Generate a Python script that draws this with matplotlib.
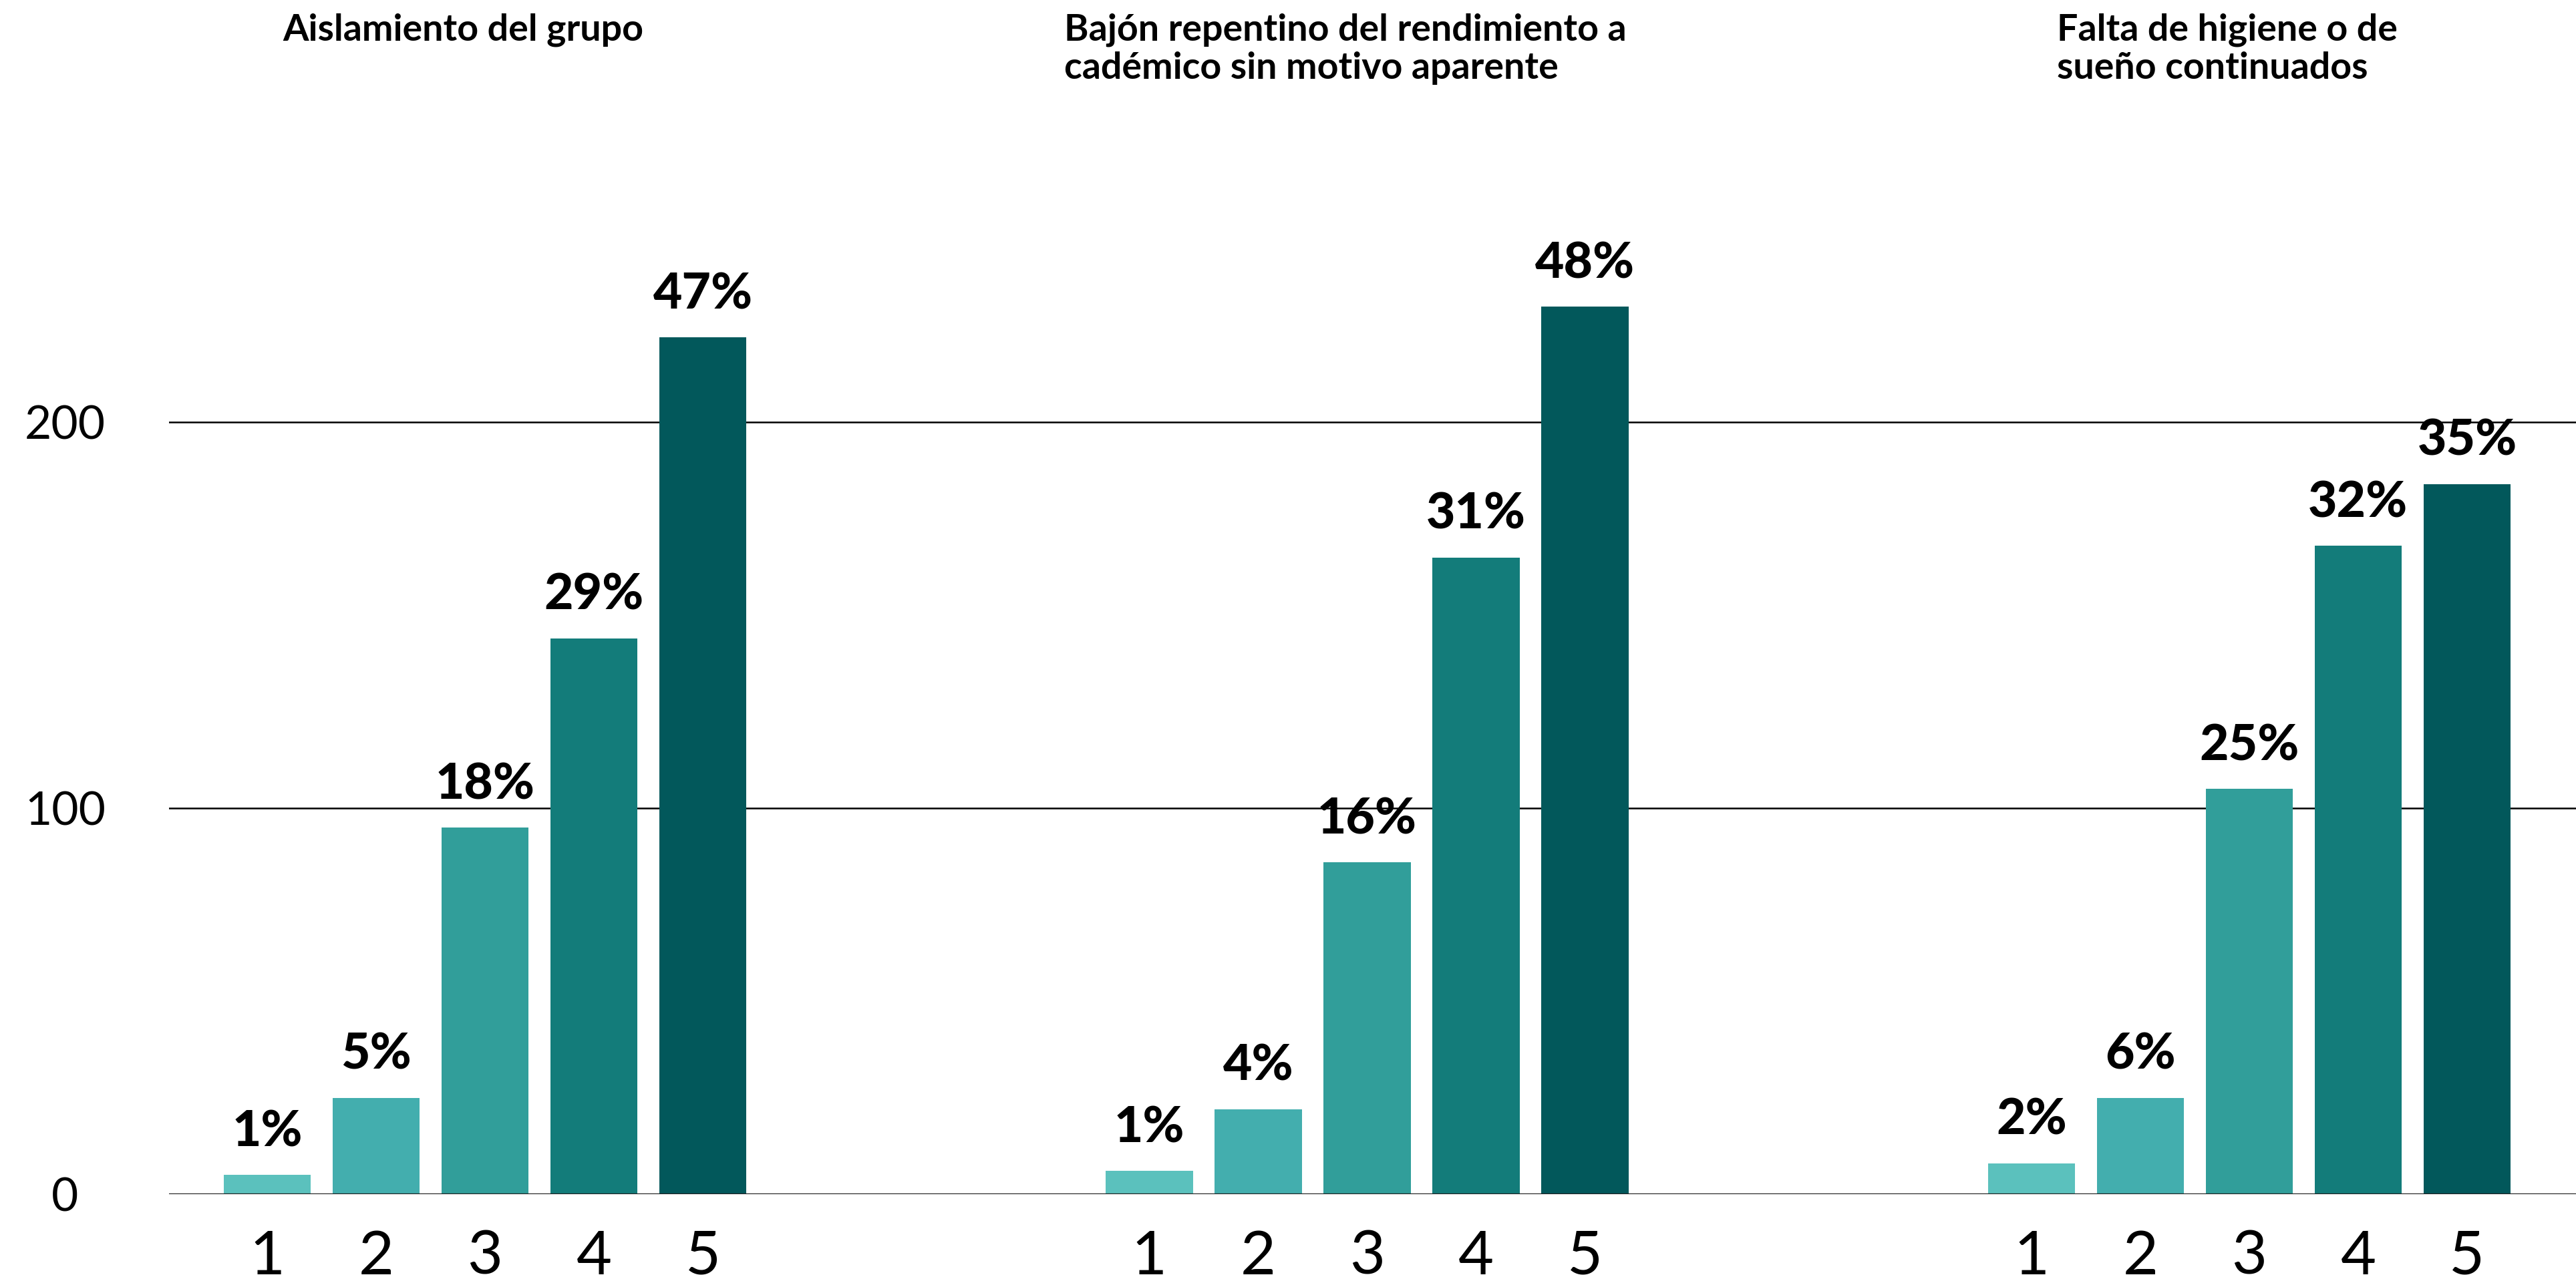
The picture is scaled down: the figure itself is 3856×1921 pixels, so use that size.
import numpy as np
import matplotlib
matplotlib.use("Agg")
import matplotlib.pyplot as plt
from matplotlib.transforms import blended_transform_factory

# data
groups = ["Aislamiento del grupo",
          "Bajón repentino del rendimiento a\ncadémico sin motivo aparente",
          "Falta de higiene o de\nsueño continuados"]
scale = ["1", "2", "3", "4", "5"]

aislamiento = [5, 25, 95, 144, 222]
bajon = [6, 22, 86, 165, 230]
higiene = [8, 25, 105, 168, 184]

aislamiento_pct = ["1%", "5%", "18%", "29%", "47%"]
bajon_pct = ["1%", "4%", "16%", "31%", "48%"]
higiene_pct = ["2%", "6%", "25%", "32%", "35%"]

yticks = [0, 100, 200]

colors = ["#5bc1bd", "#43aeae", "#319e9a", "#137c7a", "#02585b"]

series = [aislamiento, bajon, higiene]
pcts = [aislamiento_pct, bajon_pct, higiene_pct]

fig = plt.figure(figsize=(38.56, 19.21), dpi=100)
ax = fig.add_axes([253 / 3856, 133 / 1921, 1 - 253 / 3856, 1788 / 1921])

group_step = 8.1
idx = np.arange(len(scale))

xticks, xlabels = [], []
for g, (vals, labs) in enumerate(zip(series, pcts)):
    x = g * group_step + idx
    ax.bar(x, vals, width=0.8, color=colors, zorder=3)
    for xi, v, lab in zip(x, vals, labs):
        ax.annotate(lab, (xi, v), xytext=(0, 31), textcoords="offset points",
                    ha="center", va="baseline", fontsize=54,
                    fontfamily="Lato", fontweight="black", color="black")
    xticks += list(x)
    xlabels += scale

# group titles, first line cap top ~24px below the figure top
trans = blended_transform_factory(ax.transData, fig.transFigure)
for g, title in enumerate(groups):
    ax.text(g * group_step + 2 - 0.2, 1 - 20 / 1921, title, transform=trans,
            ha="center", va="top", multialignment="left",
            fontsize=40, fontfamily="Lato", fontweight="bold",
            linespacing=1.15, color="black")

ax.set_xlim(-0.902, 21.2)
ax.set_ylim(0, 1788 / 5.778)

ax.set_xticks(xticks)
ax.set_xticklabels(xlabels, fontsize=66, fontfamily="Lato", fontweight="normal",
                   color="black")
ax.set_yticks(yticks)
ax.set_yticklabels([str(t) for t in yticks], fontsize=50, fontfamily="Lato",
                   fontweight="normal", ha="center", color="black")
ax.tick_params(axis="x", length=0, pad=38)
ax.tick_params(axis="y", length=0, pad=112)

ax.grid(axis="y", color="black", linewidth=1.8, zorder=1)
for s in ax.spines.values():
    s.set_visible(False)
ax.axhline(0, color="#222222", linewidth=2.4, zorder=4)

fig.savefig("out.png", dpi=100, facecolor="white")
